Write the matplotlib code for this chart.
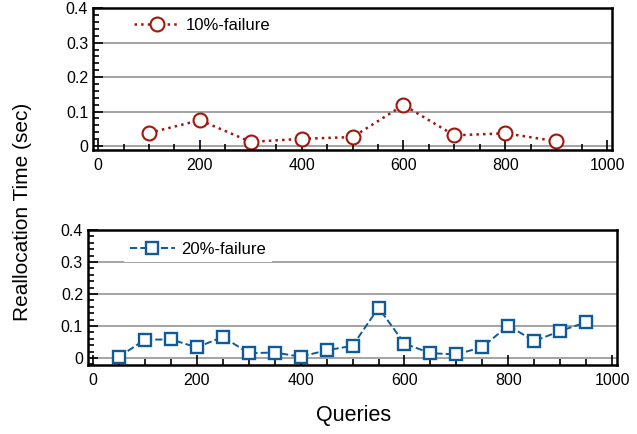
import matplotlib.pyplot as plt
from matplotlib.ticker import MultipleLocator

plt.rcParams['font.family'] = ['Liberation Sans', 'DejaVu Sans']

# data
q10 = [100, 200, 300, 400, 500, 600, 700, 800, 900]
t10 = [0.038, 0.075, 0.012, 0.021, 0.026, 0.119, 0.031, 0.037, 0.014]

q20 = [50, 100, 150, 200, 250, 300, 350, 400, 450, 500,
       550, 600, 650, 700, 750, 800, 850, 900, 950]
t20 = [0.004, 0.057, 0.058, 0.033, 0.066, 0.015, 0.017, 0.004, 0.024, 0.038,
       0.157, 0.045, 0.015, 0.011, 0.034, 0.101, 0.053, 0.084, 0.112]

red = '#a3160c'
blue = '#0f5a98'

fig = plt.figure(figsize=(6.37, 4.34), dpi=100)
ax1 = fig.add_axes([0.146, 0.654, 0.815, 0.327])
ax2 = fig.add_axes([0.138, 0.159, 0.831, 0.311])


def style_ax(ax, ymin):
    ax.set_xlim(-10, 1010)
    ax.set_ylim(ymin, 0.4)
    ax.set_yticks([0, 0.1, 0.2, 0.3, 0.4])
    ax.set_yticklabels(['0', '0.1', '0.2', '0.3', '0.4'])
    ax.set_xticks([0, 200, 400, 600, 800, 1000])
    ax.xaxis.set_minor_locator(MultipleLocator(50))
    ax.yaxis.set_minor_locator(MultipleLocator(0.02))
    ax.tick_params(which='both', direction='in', top=False, right=False,
                   labelsize=11.5, width=1.2)
    ax.tick_params(which='major', length=7)
    ax.tick_params(which='minor', length=4)
    ax.tick_params(axis='x', pad=6)
    for s in ax.spines.values():
        s.set_linewidth(1.8)
    for yv in [0, 0.1, 0.2, 0.3]:
        ax.axhline(yv, color='#8a8a8a', lw=1.1, zorder=0)


style_ax(ax1, -0.012)
style_ax(ax2, -0.022)

ax1.plot(q10, t10, ls=':', lw=1.8, color=red, marker='o', ms=10,
         mfc='white', mec=red, mew=1.5, label='10%-failure')
ax2.plot(q20, t20, ls='--', lw=1.4, color=blue, marker='s', ms=9,
         mfc='white', mec=blue, mew=1.7, label='20%-failure')

for ax, cy in ((ax1, 0.88), (ax2, 0.859)):
    leg = ax.legend(loc='center left', bbox_to_anchor=(0.068, cy), fontsize=12,
                    frameon=True, fancybox=False, framealpha=1,
                    handlelength=2.7, handletextpad=0.4, borderpad=0.35,
                    borderaxespad=0)
    leg.get_frame().set_edgecolor('none')
    leg.get_frame().set_facecolor('white')

fig.text(0.036, 0.512, 'Reallocation Time (sec)', rotation=90, fontsize=15,
         ha='center', va='center')
fig.text(0.555, 0.043, 'Queries', fontsize=15.5, ha='center', va='center')

fig.savefig('out.png', dpi=100)
